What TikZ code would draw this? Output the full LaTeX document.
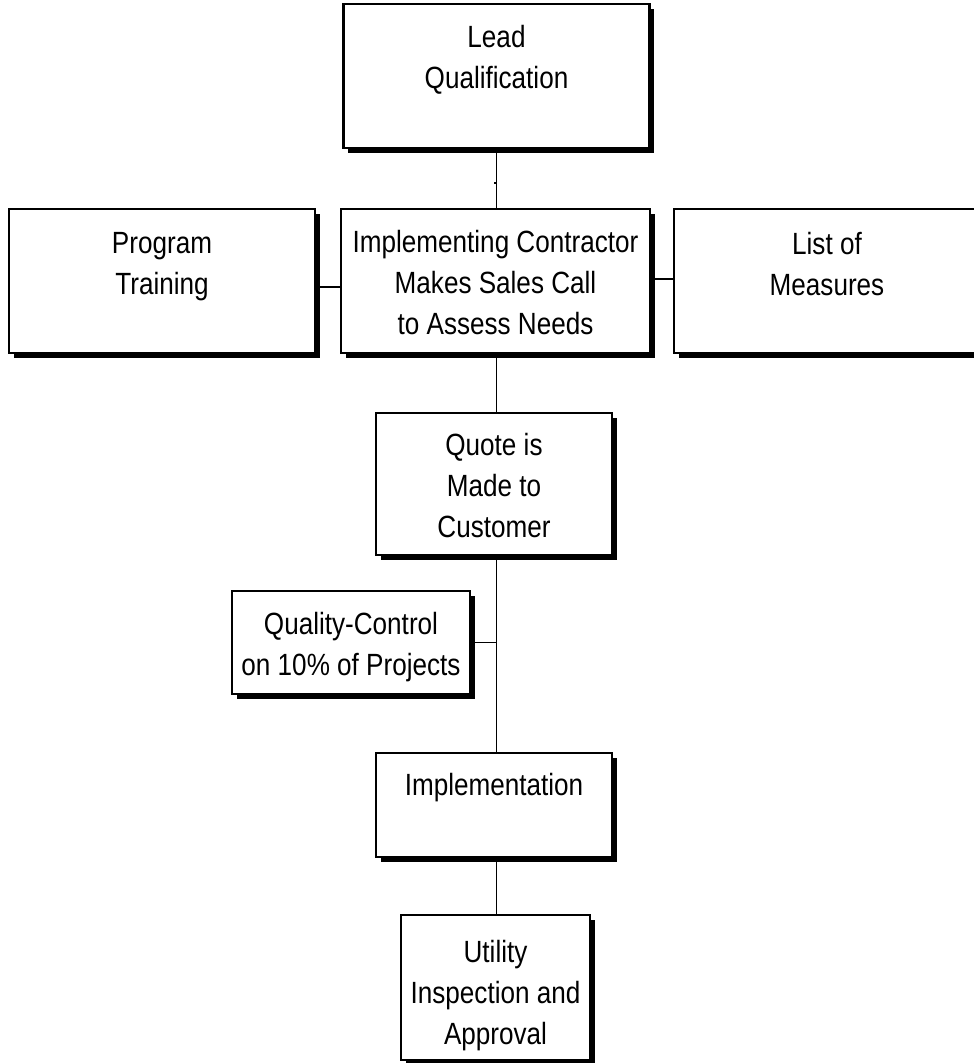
\documentclass[tikz,border=0pt]{standalone}
\usepackage{fontspec}
\setmainfont{Liberation Sans}[FakeStretch=0.85]
\usetikzlibrary{shadows}
\tikzset{
  box/.style={draw, line width=2.2pt, fill=white, inner sep=0pt,
    font=\fontsize{30.7}{41}\selectfont,
    drop shadow={shadow xshift=4.5pt, shadow yshift=-4.5pt, fill=black, opacity=1}},
  conn/.style={line width=1.8pt},
}
\newcommand{\boxtext}[4]{\parbox[c][#2][t]{#1}{\centering\vspace*{#3}#4\par}}
\begin{document}
\begin{tikzpicture}[x=1pt,y=1pt]
\useasboundingbox (0,0) rectangle (974,-1063);
\clip (0,0) rectangle (974,-1063);
\node[box] (lead)  at (496.5,-76)   {\boxtext{306pt}{144pt}{21pt}{Lead\\Qualification}};
\node[box] (prog)  at (162,-281)    {\boxtext{306pt}{144pt}{23pt}{Program\\Training}};
\node[box] (impl)  at (495.5,-281)  {\boxtext{309pt}{144pt}{21pt}{Implementing Contractor\\Makes Sales Call\\to Assess Needs}};
\node[box] (list)  at (827,-281)    {\boxtext{306pt}{144pt}{23pt}{List of\\Measures}};
\node[box] (quote) at (494,-484)    {\boxtext{236pt}{142pt}{20pt}{Quote is\\Made to\\Customer}};
\node[box] (qc)    at (351,-642.5)  {\boxtext{238pt}{103pt}{21pt}{Quality-Control\\on 10\% of Projects}};
\node[box] (implm) at (494,-805)    {\boxtext{236pt}{104pt}{20pt}{Implementation}};
\node[box] (util)  at (495.5,-987.5){\boxtext{189pt}{145pt}{25pt}{Utility\\Inspection and\\Approval}};
% connectors
\draw[conn] (lead.south) -- (impl.north -| lead.south);
\draw[conn] ([yshift=-34pt]lead.south) -- ++(-3,0);
\draw[conn] ([yshift=-6pt]prog.east) -- ([yshift=-6pt]prog.east -| impl.west);
\draw[conn] ([yshift=2pt]impl.east) -- ([yshift=2pt]impl.east -| list.west);
\draw[conn] (impl.south -| lead.south) -- (quote.north -| lead.south);
\draw[conn] (quote.south -| lead.south) -- (implm.north -| lead.south);
\draw[conn] (qc.east) -- (qc.east -| lead.south);
\draw[conn] (implm.south -| lead.south) -- (util.north -| lead.south);
\end{tikzpicture}
\end{document}
